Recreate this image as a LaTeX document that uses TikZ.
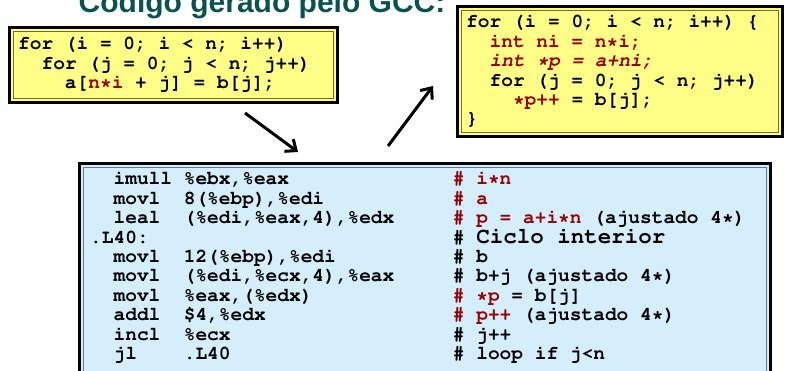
\documentclass[tikz,border=0pt]{standalone}
\usepackage[T1]{fontenc}
\usepackage{fontspec}
\setmainfont{Liberation Sans}
\newcommand\codefnt{\fontencoding{T1}\fontfamily{pcr}\fontseries{b}\selectfont}
\usetikzlibrary{arrows.meta}
\definecolor{titlecol}{RGB}{10,82,80}
\definecolor{dred}{RGB}{150,0,0}
\definecolor{yfill}{RGB}{255,255,136}
\definecolor{bfill}{RGB}{212,238,252}
\definecolor{yline}{RGB}{110,110,50}
\definecolor{bline}{RGB}{100,120,135}
\begin{document}
\begin{tikzpicture}[x=1pt,y=-1pt,
  code/.style={anchor=base west, inner sep=0pt, font=\codefnt\fontsize{19.5}{19.5}\selectfont\frenchspacing},
  outerframe/.style={draw=black, line width=3.2pt},
  innerframe/.style={line width=1pt},
  arr/.style={line width=3pt, -{Straight Barb[length=9pt,width=15pt]}}]
\useasboundingbox (0,0) rectangle (785,371);

% title
\node[anchor=base west, inner sep=0pt, font=\bfseries\fontsize{30}{30}\selectfont, text=titlecol] (title) at (78.5,13) {Código gerado pelo GCC:};

% left yellow box
\draw[outerframe, fill=yfill] (9.5,27.5) rectangle (337.5,102.5);
\draw[innerframe, draw=yline] (13.5,31.5) rectangle (333.5,98.5);
\node[code] (l1) at (18,50) {for (i = 0; i < n; i++)};
\node[code] (l2) at (18,69.5) {~~for (j = 0; j < n; j++)};
\node[code] (l3) at (18,89) {~~~~a[\textcolor{dred}{n*i} + j] = b[j];};

% right yellow box
\draw[outerframe, fill=yfill] (457.5,6.5) rectangle (782.5,136.5);
\draw[innerframe, draw=yline] (461.5,10.5) rectangle (778.5,132.5);
\node[code] (r1) at (466,28) {for (i = 0; i < n; i++) \{};
\node[code] (r2) at (466,47.4) {~~\textcolor{dred}{int ni = n*i;}};
\node[code] (r3) at (466,66.8) {~~\textcolor{dred}{\fontshape{sl}\selectfont int *p = a+ni;}};
\node[code] (r4) at (466,86.2) {~~for (j = 0; j < n; j++)};
\node[code] (r5) at (466,105.6) {~~~~\textcolor{dred}{*p++} = b[j];};
\node[code] (r6) at (466,125) {\}};

% bottom blue box
\draw[outerframe, fill=bfill] (79.5,163.5) rectangle (770.5,385);
\draw[innerframe, draw=bline, line width=1.4pt] (83.5,167.5) rectangle (766.5,385);

\node[code] (a1) at (113.4,185) {imull \%ebx,\%eax};
\node[code] (a2) at (113.4,204.4) {movl~~8(\%ebp),\%edi};
\node[code] (a3) at (113.4,223.8) {leal~~(\%edi,\%eax,4),\%edx};
\node[code] (a4) at (90,243.2) {.L40:};
\node[code] (a5) at (113.4,262.6) {movl~~12(\%ebp),\%edi};
\node[code] (a6) at (113.4,282) {movl~~(\%edi,\%ecx,4),\%eax};
\node[code] (a7) at (113.4,301.4) {movl~~\%eax,(\%edx)};
\node[code] (a8) at (113.4,320.8) {addl~~\$4,\%edx};
\node[code] (a9) at (113.4,340.2) {incl~~\%ecx};
\node[code] (a10) at (113.4,359.6) {jl~~~~.L40};

\node[code] (c1) at (452.7,185) {\textcolor{dred}{\# i*n}};
\node[code] (c2) at (452.7,204.4) {\textcolor{dred}{\# a}};
\node[code] (c3) at (452.7,223.8) {\textcolor{dred}{\# p = a+i*n} (ajustado 4*)};
\node[code] (c4) at (452.7,243.2) {\# {\fontsize{22.5}{22.5}\selectfont Ciclo interior}};
\node[code] (c5) at (452.7,262.6) {\# b};
\node[code] (c6) at (452.7,282) {\# b+j (ajustado 4*)};
\node[code] (c7) at (452.7,301.4) {\textcolor{dred}{\# *p} = b[j]};
\node[code] (c8) at (452.7,320.8) {\textcolor{dred}{\# p++} (ajustado 4*)};
\node[code] (c9) at (452.7,340.2) {\# j++};
\node[code] (c10) at (452.7,359.6) {\# loop if j<n};

% arrows
\coordinate (s1) at (245,113);
\coordinate (e1) at (298,152);
\coordinate (s2) at (388,146);
\coordinate (e2) at (433,86);
\draw[arr] (s1) -- (e1);
\draw[arr] (s2) -- (e2);
\end{tikzpicture}
\end{document}
